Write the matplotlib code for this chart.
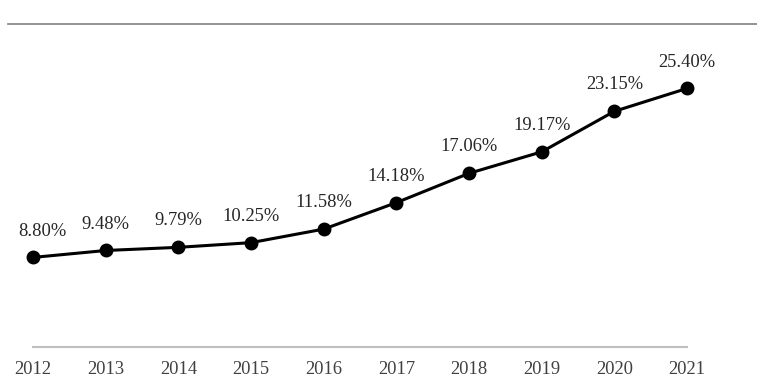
import matplotlib.pyplot as plt
from matplotlib.lines import Line2D

years = [2012, 2013, 2014, 2015, 2016, 2017, 2018, 2019, 2020, 2021]
values = [8.80, 9.48, 9.79, 10.25, 11.58, 14.18, 17.06, 19.17, 23.15, 25.40]

plt.rcParams['font.family'] = ['Liberation Serif', 'DejaVu Serif']

fig = plt.figure(figsize=(7.57, 3.88), dpi=100)
ax = fig.add_axes([33 / 757, 1 - 347 / 388, (687 - 33) / 757, (347 - 41.6) / 388])

ax.plot(years, values, color='black', lw=2.2, marker='o', markersize=9, clip_on=False, zorder=3)
for i, (x, v) in enumerate(zip(years, values)):
    dx = 7 if i == 0 else 0  # first label nudged right so it stays inside
    ax.annotate(f"{v:.2f}%", (x, v), xytext=(dx, 19), textcoords='offset points',
                ha='center', va='center', fontsize=13.3, color='#262626')

ax.set_xlim(2012, 2021)
ax.set_ylim(0, 30)
ax.set_xticks(years)
ax.set_xticklabels([str(y) for y in years], fontsize=13.3, color='#404040')
ax.set_yticks([])
for s in ['top', 'left', 'right']:
    ax.spines[s].set_visible(False)
ax.spines['bottom'].set_color('#bfbfbf')
ax.spines['bottom'].set_linewidth(1.5)
ax.tick_params(axis='x', length=0, pad=10)

fig.add_artist(Line2D([8 / 757, 1], [1 - 24 / 388, 1 - 24 / 388], color='#808080', lw=1.2))

fig.savefig('out.png', dpi=100)
